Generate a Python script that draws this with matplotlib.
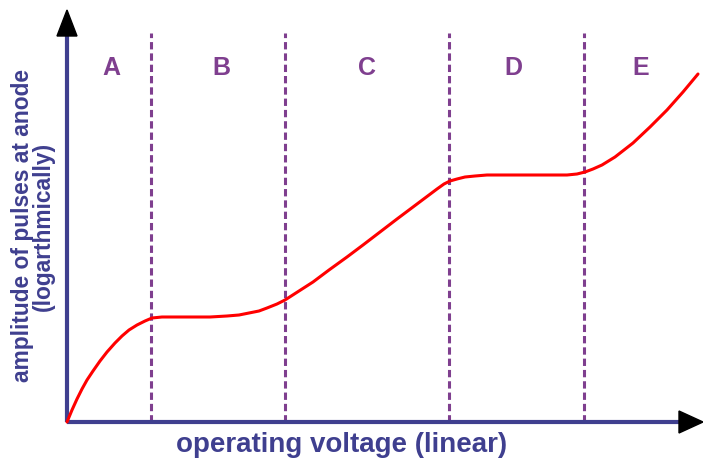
import matplotlib.pyplot as plt
from matplotlib.patches import FancyArrow

plt.rcParams['font.family'] = ['Liberation Sans', 'DejaVu Sans']

# curve (x: voltage, y: amplitude), arbitrary units
volt = [0, 5, 10, 15, 20, 26, 33, 40, 48, 55, 62, 70, 78, 85, 95, 110,
        125, 143, 160, 172, 182, 192, 200, 210, 218, 232, 246, 262, 280,
        296, 313, 330, 346, 358, 370, 377, 383, 390, 398, 408, 420, 446,
        480, 500, 510, 518, 526, 535, 548, 566, 583, 600, 616, 631]
amp = [0, 12, 23, 33, 42, 51, 61, 70, 79, 86, 92, 97, 101, 104, 105, 105,
       105, 105, 106, 107, 109, 111, 114, 118, 122, 131, 140, 152, 165,
       177, 190, 203, 215, 224, 233, 238, 241, 243, 245, 246, 247, 247,
       247, 247, 248, 250, 253, 257, 265, 279, 295, 312, 330, 348]

regions = ['A', 'B', 'C', 'D', 'E']
region_x = [44, 154, 300, 446, 574]
boundaries = [84, 218, 382, 517]

axis_col = '#3f3f8f'
purple = '#7f3f8f'

fig = plt.figure(figsize=(7.03, 4.61), dpi=100)
ax = fig.add_axes([0, 0, 1, 1])
ax.set_xlim(-67, 636)
ax.set_ylim(-39, 422)
ax.axis('off')

# axes with arrows
ax.plot([0, 616], [0, 0], color=axis_col, lw=3, solid_capstyle='butt', zorder=2)
ax.plot([0, 0], [0, 390], color=axis_col, lw=3, solid_capstyle='butt', zorder=2)
ax.add_patch(FancyArrow(612, 0, 24, 0, width=0, head_width=22, head_length=24,
                        length_includes_head=True, color='black', zorder=3))
ax.add_patch(FancyArrow(0, 386, 0, 26, width=0, head_width=20, head_length=26,
                        length_includes_head=True, color='black', zorder=3))

for b in boundaries:
    ax.plot([b, b], [0, 389], color=purple, lw=2.2, ls=(0, (2.4, 1.3)), zorder=1)

for lab, x in zip(regions, region_x):
    ax.text(x, 354, lab, color=purple, fontsize=18, fontweight='bold',
            ha='center', va='center')

ax.plot(volt, amp, color='red', lw=2.2, zorder=4, solid_capstyle='round',
        solid_joinstyle='round')

ax.text(275, -23, 'operating voltage (linear)', color=axis_col, fontsize=20,
        fontweight='bold', ha='center', va='center')
ax.text(-34, 196, 'amplitude of pulses at anode\n(logarthmically)', color=axis_col,
        fontsize=16.4, fontweight='bold', ha='center', va='center', rotation=90,
        linespacing=0.85)

fig.savefig('out.png', dpi=100)
